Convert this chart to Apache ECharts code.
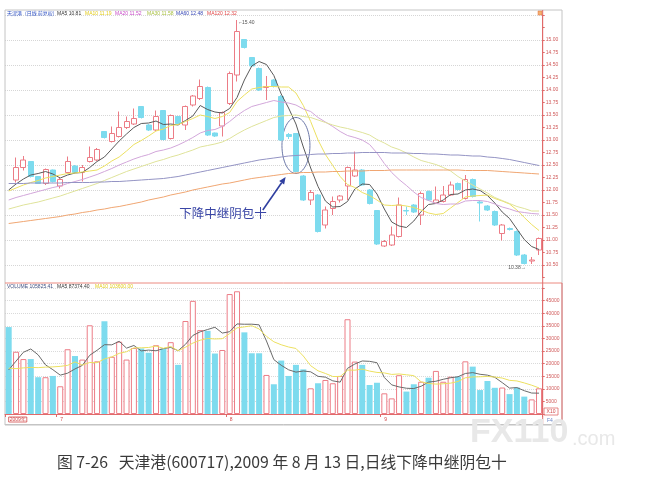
<!DOCTYPE html>
<html><head><meta charset="utf-8">
<script src="https://cdn.jsdelivr.net/npm/echarts@6/dist/echarts.min.js"></script>
<style>html,body{margin:0;padding:0;background:#fff;}#c{width:651px;height:479px;}</style>
</head><body><div id="c"></div>
<script>
// ---- data ----
const dates = ['2009-06-22','2009-06-23','2009-06-24','2009-06-25','2009-06-26','2009-06-29','2009-06-30',
'2009-07-01','2009-07-02','2009-07-03','2009-07-06','2009-07-07','2009-07-08','2009-07-09','2009-07-10','2009-07-13','2009-07-14','2009-07-15','2009-07-16','2009-07-17','2009-07-20','2009-07-21','2009-07-22','2009-07-23','2009-07-24','2009-07-27','2009-07-28','2009-07-29','2009-07-30','2009-07-31',
'2009-08-03','2009-08-04','2009-08-05','2009-08-06','2009-08-07','2009-08-10','2009-08-11','2009-08-12','2009-08-13','2009-08-14','2009-08-17','2009-08-18','2009-08-19','2009-08-20','2009-08-21','2009-08-24','2009-08-25','2009-08-26','2009-08-27','2009-08-28','2009-08-31',
'2009-09-01','2009-09-02','2009-09-03','2009-09-04','2009-09-07','2009-09-08','2009-09-09','2009-09-10','2009-09-11','2009-09-14','2009-09-15','2009-09-16','2009-09-17','2009-09-18','2009-09-21','2009-09-22','2009-09-23','2009-09-24','2009-09-25','2009-09-28','2009-09-29','2009-09-30'];
const opens  = [null,12.20,12.45,12.57,12.27,12.13,12.40,12.08,12.35,12.48,12.35,12.57,12.60,13.17,12.97,13.07,13.25,13.32,13.67,13.30,13.20,13.59,13.03,13.47,13.30,13.70,13.83,14.05,13.14,13.28,13.73,14.30,15.01,14.65,14.43,14.05,14.20,13.87,13.11,13.13,12.28,11.80,11.90,11.30,11.63,11.80,12.08,12.28,12.40,12.00,11.59,10.88,10.90,11.07,11.59,11.70,11.50,11.97,11.74,11.77,11.90,12.13,11.83,12.21,11.76,11.68,11.57,11.13,11.23,11.17,10.70,10.58,10.80];
const closes = [null,12.45,12.60,12.27,12.13,12.41,12.17,12.21,12.57,12.35,12.45,12.65,12.81,13.05,13.13,13.25,13.37,13.43,13.45,13.20,13.47,13.01,13.49,13.33,13.67,13.88,14.07,13.10,13.08,13.55,14.33,15.17,14.85,14.48,14.00,14.07,14.07,13.00,13.07,12.37,11.80,11.95,11.17,11.60,11.77,11.88,12.45,12.40,12.10,11.73,10.92,10.97,11.10,11.70,11.58,11.56,11.93,11.80,11.80,11.90,12.10,12.01,12.21,11.87,11.74,11.60,11.30,11.30,11.21,10.70,10.53,10.60,11.03];
const lows   = [null,12.15,12.39,12.25,12.12,12.10,12.15,12.03,12.33,12.33,12.17,12.55,12.58,13.03,12.95,13.05,13.22,13.30,13.43,13.18,13.18,12.99,13.01,13.31,13.20,13.67,13.80,13.08,13.06,13.07,13.70,14.17,14.83,14.46,13.98,13.80,14.05,12.98,13.02,12.35,11.78,11.70,11.15,11.23,11.50,11.75,11.80,12.26,12.08,11.71,10.90,10.86,10.88,11.05,11.50,11.54,11.30,11.78,11.72,11.75,11.88,11.99,11.81,11.85,11.37,11.58,11.28,10.99,11.19,10.68,10.51,10.52,10.70];
const highs  = [null,12.65,12.68,12.58,12.28,12.43,12.41,12.24,12.67,12.50,12.50,12.87,12.84,13.18,13.27,13.57,13.47,13.63,13.68,13.32,13.59,13.60,13.51,13.48,13.69,13.90,14.21,14.07,13.15,13.57,14.37,15.40,15.02,14.66,14.45,14.28,14.22,13.90,13.14,13.14,12.30,12.00,11.92,11.67,11.87,11.90,12.47,12.77,12.42,12.02,11.60,11.00,11.27,11.85,11.67,11.72,11.97,11.99,12.07,12.08,12.17,12.15,12.30,12.23,11.80,11.70,11.59,11.32,11.25,11.19,10.72,10.66,11.05];
const ma5   = [12.00,12.12,12.22,12.30,12.33,12.37,12.32,12.24,12.30,12.34,12.35,12.45,12.57,12.66,12.82,12.98,13.12,13.25,13.33,13.34,13.38,13.31,13.32,13.30,13.39,13.48,13.69,13.61,13.56,13.54,13.63,13.85,14.20,14.48,14.57,14.51,14.29,13.92,13.64,13.32,12.86,12.44,12.07,11.78,11.66,11.67,11.77,12.02,12.12,12.11,11.92,11.62,11.36,11.28,11.25,11.38,11.57,11.71,11.73,11.80,11.91,11.92,12.00,12.02,11.99,11.89,11.74,11.56,11.43,11.22,11.01,10.87,10.81];
const ma10  = [11.98,12.04,12.10,12.15,12.19,12.24,12.27,12.30,12.33,12.34,12.36,12.38,12.40,12.48,12.58,12.66,12.78,12.91,12.99,13.08,13.18,13.22,13.29,13.31,13.37,13.43,13.50,13.47,13.43,13.47,13.55,13.77,13.90,14.02,14.05,14.07,14.07,14.06,14.06,13.94,13.69,13.37,13.00,12.71,12.49,12.27,12.11,12.05,11.95,11.89,11.80,11.70,11.69,11.70,11.68,11.65,11.60,11.54,11.51,11.53,11.64,11.75,11.86,11.88,11.89,11.90,11.83,11.78,11.72,11.60,11.45,11.31,11.19];
const ma20  = [11.80,11.85,11.89,11.93,11.97,12.01,12.05,12.08,12.13,12.17,12.21,12.26,12.31,12.37,12.43,12.50,12.56,12.62,12.67,12.71,12.77,12.80,12.84,12.90,12.97,13.05,13.14,13.19,13.21,13.27,13.37,13.49,13.59,13.67,13.71,13.75,13.79,13.76,13.74,13.70,13.62,13.57,13.45,13.36,13.27,13.17,13.09,13.05,13.00,12.91,12.74,12.53,12.35,12.21,12.09,11.96,11.85,11.79,11.73,11.71,11.72,11.72,11.78,11.79,11.79,11.77,11.72,11.66,11.62,11.57,11.55,11.53,11.52];
const ma30  = [11.62,11.66,11.70,11.73,11.76,11.80,11.84,11.88,11.93,11.98,12.03,12.08,12.13,12.19,12.25,12.31,12.37,12.42,12.47,12.52,12.57,12.61,12.66,12.70,12.75,12.80,12.86,12.89,12.92,12.96,13.03,13.12,13.20,13.27,13.33,13.39,13.45,13.48,13.49,13.50,13.47,13.45,13.40,13.35,13.30,13.26,13.23,13.19,13.15,13.10,13.01,12.94,12.86,12.81,12.74,12.66,12.59,12.55,12.51,12.45,12.38,12.27,12.18,12.10,12.02,11.94,11.85,11.79,11.73,11.67,11.63,11.58,11.58];
const ma60  = [12.13,12.13,12.13,12.14,12.14,12.14,12.14,12.14,12.15,12.15,12.15,12.15,12.16,12.16,12.17,12.17,12.18,12.19,12.20,12.21,12.22,12.23,12.25,12.27,12.30,12.33,12.36,12.39,12.42,12.45,12.48,12.51,12.54,12.57,12.60,12.62,12.64,12.66,12.68,12.69,12.70,12.71,12.72,12.72,12.73,12.73,12.74,12.74,12.75,12.75,12.75,12.75,12.74,12.74,12.74,12.73,12.73,12.72,12.72,12.71,12.70,12.70,12.69,12.68,12.68,12.66,12.65,12.63,12.61,12.58,12.55,12.52,12.49];
const ma120 = [11.33,11.35,11.37,11.39,11.41,11.43,11.45,11.47,11.50,11.52,11.55,11.57,11.60,11.62,11.65,11.67,11.70,11.73,11.76,11.80,11.83,11.86,11.90,11.93,11.96,12.00,12.03,12.06,12.09,12.12,12.14,12.17,12.20,12.23,12.25,12.27,12.29,12.31,12.33,12.34,12.35,12.35,12.36,12.36,12.37,12.37,12.38,12.38,12.38,12.39,12.39,12.39,12.40,12.40,12.40,12.40,12.40,12.40,12.40,12.40,12.40,12.40,12.39,12.39,12.39,12.39,12.38,12.37,12.36,12.35,12.34,12.33,12.32];
const volumes = [34500,24700,21800,21800,14600,14600,15100,11000,25700,23000,21600,35200,20900,36800,22700,28700,21600,26200,26000,24300,27300,26000,28500,19500,36900,44900,33300,33000,24000,25400,47600,48700,32400,24100,24100,15500,11800,21200,15100,19500,17700,10200,12200,13500,12200,15100,37600,20800,19500,11500,12400,8200,6200,15400,8900,11800,12800,14400,17100,12800,14800,14800,20900,18800,9500,13100,10400,10500,7900,10500,6900,5800,10200];
const vma5  = [17500,21000,24500,25800,23480,19500,17580,15420,16200,17880,19280,23300,25280,27500,27440,28860,26140,27200,25040,25360,25080,25960,26420,25120,27640,31160,32620,33520,34420,32120,32660,35740,35620,35640,35380,28960,21580,19340,17540,16620,17060,16740,14940,14620,13160,12640,18120,19840,21040,20900,20360,14480,11560,10740,10220,10100,11020,12660,13000,13780,14380,14780,16080,16420,15760,15420,14540,12460,10280,10480,9240,8320,8260];
const vma10 = [18200,18000,18300,18500,18400,18600,18700,18900,19300,20680,19390,20440,20350,21850,22660,24070,24720,26240,26270,26400,26970,26050,26810,25080,26500,28120,29290,29970,29770,29880,31910,34180,34570,35030,33750,30810,28660,27480,26590,26000,23010,19160,17140,16080,14890,14850,17430,17390,17830,17030,16500,16300,15700,15890,15560,15230,12750,12110,11870,12000,12240,12900,14370,14710,14770,14900,14660,14270,13350,13120,12330,11430,10360];
const priceLegend = [['天津港','#2f52c4'],['(日线 前复权)','#2f52c4'],['MA5 10.81','#333333'],['MA10 11.19','#e2cc1c'],['MA20 11.52','#c84ac8'],['MA30 11.58','#a8c040'],['MA60 12.48','#3444b4'],['MA120 12.32','#e04444']];
const volLegend = [['VOLUME 105825.41','#405080'],['MA5 87374.40','#333333'],['MA10 103600.00','#e2cc1c']];
const highLabel = '15.40', lowLabel = '10.38';
const noteText = '下降中继阴包十';
const caption = '图 7-26   天津港(600717),2009 年 8 月 13 日,日线下降中继阴包十';

// ---- chart ----
const UP = '#ec7c86', DN = '#7ddbee', AX = '#e06a6a';
const FONT = '"Liberation Sans", Arial, sans-serif';
const CJK = '"Noto Sans CJK SC", sans-serif';
const chart = echarts.init(document.getElementById('c'));
const candleData = dates.map((d, i) => opens[i] == null ? '-' : [opens[i], closes[i], lows[i], highs[i]]);
const volData = volumes.map((v, i) => {
  const up = opens[i] != null && closes[i] >= opens[i];
  return {value: v, itemStyle: up ? {color: '#ffffff', borderColor: UP, borderWidth: 1} : {color: DN, borderColor: DN, borderWidth: 0}};
});
const monthStart = i => i === 0 || dates[i].slice(5, 7) !== dates[i - 1].slice(5, 7);
const line = (name, data, color, xi, yi, w) => ({
  name, type: 'line', data, xAxisIndex: xi, yAxisIndex: yi, symbol: 'none', z: 3,
  lineStyle: {color, width: w || 1}, silent: true
});
const L = 5, R = 108.3;
const option = {
  animation: false,
  grid: [{left: L, right: R, top: 15, height: 262.5}, {left: L, right: R, top: 288, height: 126}],
  xAxis: [
    {type: 'category', data: dates, gridIndex: 0, axisLine: {show: false}, axisTick: {show: false}, axisLabel: {show: false}, splitLine: {show: false}},
    {type: 'category', data: dates, gridIndex: 1, axisLine: {lineStyle: {color: AX}},
      axisTick: {show: true, interval: (i) => monthStart(i), length: 3, lineStyle: {color: AX}},
      axisLabel: {interval: (i) => monthStart(i), align: 'left', fontSize: 5, color: '#d04848', margin: 3, fontFamily: FONT,
        formatter: (v, i) => i === 0 ? '{y|2009年}' : String(+v.slice(5, 7)),
        rich: {y: {fontSize: 5, color: '#d04848', borderColor: '#d04848', borderWidth: 0.8, padding: [0, 1, 0, 1]}}},
      splitLine: {show: false}}
  ],
  yAxis: [
    {gridIndex: 0, position: 'right', min: 10.25, max: 15.5, interval: 0.25,
      axisLine: {show: true, lineStyle: {color: AX}}, axisTick: {show: true, length: 2, lineStyle: {color: AX}},
      axisLabel: {fontSize: 5, color: '#d05a5a', margin: 3, fontFamily: FONT, formatter: v => (v >= 10.49 && v <= 15.01) ? v.toFixed(2) : ''},
      splitLine: {show: true, lineStyle: {type: 'dotted', color: ['rgba(0,0,0,0)', '#d6d6d6']}}},
    {gridIndex: 1, position: 'right', min: 0, max: 50000, interval: 5000,
      axisLine: {show: true, lineStyle: {color: AX}}, axisTick: {show: true, length: 2, lineStyle: {color: AX}},
      axisLabel: {fontSize: 5, color: '#d05a5a', margin: 3, fontFamily: FONT, formatter: v => (v > 0 && v < 50000) ? String(v) : ''},
      splitLine: {show: true, lineStyle: {type: 'dotted', color: '#dadada'}}}
  ],
  series: [
    {type: 'candlestick', data: candleData, xAxisIndex: 0, yAxisIndex: 0, barWidth: 5.5, z: 2,
      itemStyle: {color: '#ffffff', color0: DN, borderColor: UP, borderColor0: DN, borderWidth: 1},
      markPoint: {symbol: 'circle', symbolSize: 0, silent: true,
        data: [
          {coord: [dates[31], 15.40], label: {show: true, formatter: '⌐' + highLabel, position: 'right', distance: 2, offset: [0, 3], fontSize: 5, color: '#555', fontFamily: FONT}},
          {coord: [dates[69], 10.44], label: {show: true, formatter: lowLabel + '→', position: 'inside', fontSize: 5, color: '#555', fontFamily: FONT}}
        ]}},
    line('MA5', ma5, '#5a5a5a', 0, 0),
    line('MA10', ma10, '#ece060', 0, 0),
    line('MA20', ma20, '#d2a6da', 0, 0),
    line('MA30', ma30, '#dfe39a', 0, 0),
    line('MA60', ma60, '#9494c4', 0, 0),
    line('MA120', ma120, '#f0a672', 0, 0),
    {type: 'bar', data: volData, xAxisIndex: 1, yAxisIndex: 1, barWidth: 6, z: 2, silent: true},
    line('VMA5', vma5, '#6a6a6a', 1, 1),
    line('VMA10', vma10, '#ece060', 1, 1)
  ]
};
chart.setOption(option);

// ---- annotations placed through the axes ----
const px = (fi, v) => {
  const a = chart.convertToPixel({xAxisIndex: 0, yAxisIndex: 0}, [dates[0], v]);
  const b = chart.convertToPixel({xAxisIndex: 0, yAxisIndex: 0}, [dates[1], v]);
  return [a[0] + fi * (b[0] - a[0]), a[1]];
};
const ec = px(39.0, 12.89);
const tail = px(34.5, 11.60), head = px(37.6, 12.26);
const dx = head[0] - tail[0], dy = head[1] - tail[1], len = Math.hypot(dx, dy);
const ux = dx / len, uy = dy / len, nx = -uy, ny = ux;
const tip = [head[0], head[1]];
const base = [tip[0] - ux * 7, tip[1] - uy * 7];
const noteC = px(29.1, 11.54);

const graphics = [
  {type: 'rect', shape: {x: 5, y: 10, width: 557, height: 415}, style: {fill: 'none', stroke: '#c4c4c4', lineWidth: 1}, silent: true},
  {type: 'line', shape: {x1: 5, y1: 283, x2: 562, y2: 283}, style: {stroke: '#ec8a80', lineWidth: 1}},
  {type: 'line', shape: {x1: 542.7, y1: 10, x2: 542.7, y2: 425}, style: {stroke: AX, lineWidth: 1}},
  {type: 'line', shape: {x1: 562, y1: 283, x2: 562, y2: 425}, style: {stroke: AX, lineWidth: 1}},
  {type: 'line', shape: {x1: 5, y1: 424.5, x2: 562, y2: 424.5}, style: {stroke: '#c4c4c4', lineWidth: 1}},
  {type: 'rect', shape: {x: 538, y: 11, width: 4, height: 4}, style: {fill: '#f4b070', stroke: '#e07040', lineWidth: 0.5}},
  {type: 'rect', shape: {x: 544, y: 408, width: 14, height: 7}, style: {fill: '#fff', stroke: AX, lineWidth: 0.8}},
  {type: 'text', style: {text: 'X10', x: 551, y: 411.5, fontSize: 5, fill: '#d04848', align: 'center', verticalAlign: 'middle', fontFamily: FONT}},
  {type: 'text', style: {text: 'F4', x: 547, y: 421, fontSize: 5, fill: '#6a86c8', verticalAlign: 'middle', fontFamily: FONT}},
  {type: 'ellipse', shape: {cx: ec[0], cy: ec[1], rx: 14, ry: 28}, style: {fill: 'none', stroke: '#6c78a8', lineWidth: 1}},
  {type: 'line', shape: {x1: tail[0], y1: tail[1], x2: base[0], y2: base[1]}, style: {stroke: '#2f3fa0', lineWidth: 1.6}},
  {type: 'polygon', shape: {points: [tip, [base[0] + nx * 3, base[1] + ny * 3], [base[0] - nx * 3, base[1] - ny * 3]]}, style: {fill: '#2f3fa0'}},
  {type: 'text', style: {text: noteText, x: noteC[0], y: noteC[1], fontSize: 12.5, fill: '#3a46a6', align: 'center', verticalAlign: 'middle', fontFamily: CJK}},
  {type: 'text', style: {text: 'FX110', x: 470, y: 433, fontSize: 34, fontWeight: 'bold', fill: '#e8e8e8', verticalAlign: 'middle', fontFamily: FONT}},
  {type: 'text', style: {text: '.com', x: 572, y: 439, fontSize: 20, fill: '#e8e8e8', verticalAlign: 'middle', fontFamily: FONT}},
  {type: 'text', style: {text: caption, x: 57, y: 462, fontSize: 15.8, fill: '#3a3a3a', verticalAlign: 'middle', fontFamily: CJK}}
];
const pxLeg = [7, 25, 57, 85, 115, 147, 176, 207];
priceLegend.forEach((p, i) => graphics.push({type: 'text', style: {text: p[0], x: pxLeg[i], y: 13.5, fontSize: 5, fill: p[1], verticalAlign: 'middle', fontFamily: i < 2 ? CJK : FONT}}));
const vxLeg = [7, 57, 95];
volLegend.forEach((p, i) => graphics.push({type: 'text', style: {text: p[0], x: vxLeg[i], y: 286.5, fontSize: 5, fill: p[1], verticalAlign: 'middle', fontFamily: FONT}}));
chart.setOption({graphic: graphics});
</script></body></html>
